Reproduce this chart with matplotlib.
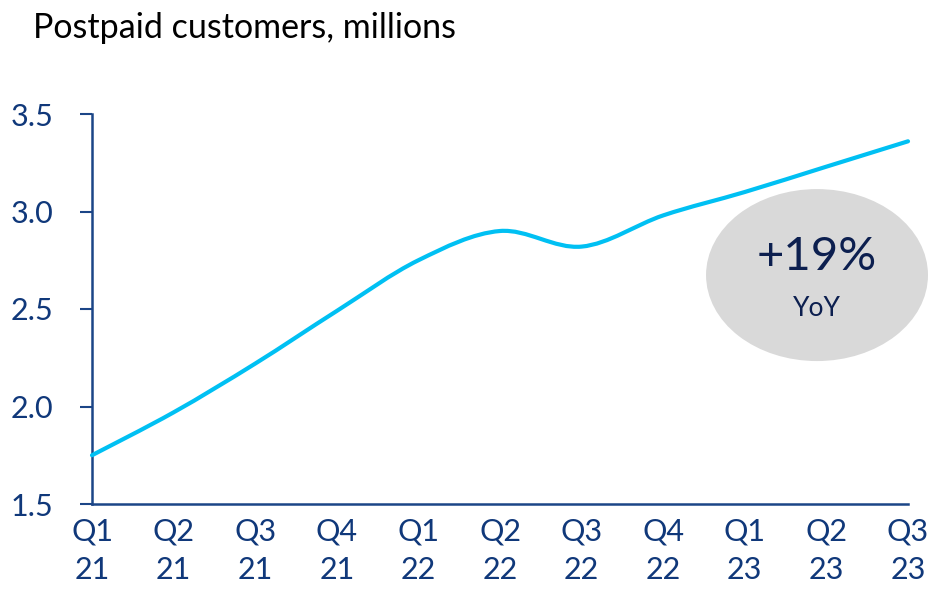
import numpy as np
import matplotlib
matplotlib.use("Agg")
import matplotlib.pyplot as plt
from matplotlib.path import Path
from matplotlib.patches import PathPatch, Ellipse

# data
quarters = ["Q1\n21", "Q2\n21", "Q3\n21", "Q4\n21", "Q1\n22", "Q2\n22",
            "Q3\n22", "Q4\n22", "Q1\n23", "Q2\n23", "Q3\n23"]
customers = [1.75, 1.97, 2.22, 2.49, 2.75, 2.90, 2.82, 2.98, 3.10, 3.23, 3.36]
y_ticks = [1.5, 2.0, 2.5, 3.0, 3.5]
growth_label = "+19%"
growth_sub = "YoY"

plt.rcParams['font.family'] = ['Lato', 'DejaVu Sans']

line_color = '#00c0f3'
axis_color = '#1b4587'
tick_color = '#10387a'
text_dark = '#0c1f4f'

fig = plt.figure(figsize=(9.47, 5.95), dpi=100)
ax = fig.add_axes([92 / 947, 1 - 504 / 595, 816 / 947, 390 / 595])

x = np.arange(len(customers))
y = np.array(customers)

# smooth curve like Excel's "smoothed line": Catmull-Rom as cubic Beziers
verts = [(x[0], y[0])]
codes = [Path.MOVETO]
n = len(x)
for i in range(n - 1):
    p0 = np.array([x[max(i - 1, 0)], y[max(i - 1, 0)]])
    p1 = np.array([x[i], y[i]])
    p2 = np.array([x[i + 1], y[i + 1]])
    p3 = np.array([x[min(i + 2, n - 1)], y[min(i + 2, n - 1)]])
    c1 = p1 + (p2 - p0) / 6
    c2 = p2 - (p3 - p1) / 6
    verts += [tuple(c1), tuple(c2), tuple(p2)]
    codes += [Path.CURVE4] * 3
curve = PathPatch(Path(verts, codes), facecolor='none', edgecolor=line_color,
                  lw=3, capstyle='round', zorder=3, clip_on=False)
ax.add_patch(curve)

ax.set_xlim(0, n - 1)
ax.set_ylim(1.5, 3.5)
ax.set_xticks(x)
ax.set_xticklabels(quarters, fontsize=22, color=tick_color, linespacing=1.45)
ax.set_yticks(y_ticks)
ax.set_yticklabels([f"{v:.1f}" for v in y_ticks], fontsize=22, color=tick_color)
ax.tick_params(axis='x', length=0, pad=10)
ax.tick_params(axis='y', length=9, width=1.5, color=axis_color, pad=19)

for side in ['top', 'right']:
    ax.spines[side].set_visible(False)
for side in ['left', 'bottom']:
    ax.spines[side].set_color(axis_color)
    ax.spines[side].set_linewidth(1.8)

# growth bubble
ax.add_patch(Ellipse((8.885, 2.674), 2.72, 0.882, facecolor='#d9d9d9',
                     edgecolor='none', zorder=2, clip_on=False))
ax.text(8.885, 2.767, growth_label, ha='center', va='center', fontsize=34,
        color=text_dark, zorder=4)
ax.text(8.885, 2.505, growth_sub, ha='center', va='center', fontsize=19,
        color=text_dark, zorder=4)

fig.text(33 / 947, 1 - 38 / 595, "Postpaid customers, millions", fontsize=24.5,
         color='black', ha='left', va='baseline')

fig.savefig("out.png", dpi=100)
